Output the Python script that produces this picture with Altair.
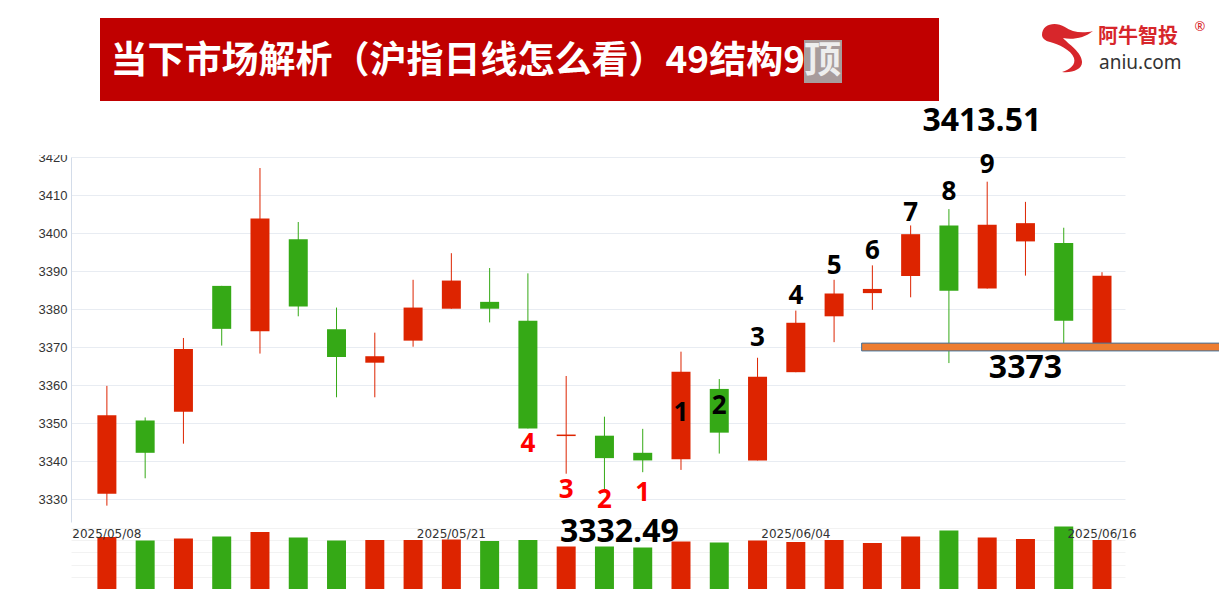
import altair as alt
import pandas as pd

title_main = "当下市场解析（沪指日线怎么看）49结构9"
title_last = "顶"
brand_cn = "阿牛智投"
brand_en = "aniu.com"

dates = ["2025/05/08", "2025/05/09", "2025/05/12", "2025/05/13", "2025/05/14", "2025/05/15",
         "2025/05/16", "2025/05/19", "2025/05/20", "2025/05/21", "2025/05/22", "2025/05/23",
         "2025/05/26", "2025/05/27", "2025/05/28", "2025/05/29", "2025/05/30", "2025/06/03",
         "2025/06/04", "2025/06/05", "2025/06/06", "2025/06/09", "2025/06/10", "2025/06/11",
         "2025/06/12", "2025/06/13", "2025/06/16"]
opens = [3331.4, 3350.7, 3353.0, 3386.1, 3374.2, 3398.4, 3374.7, 3365.9, 3371.7, 3380.1,
         3381.9, 3376.9, 3346.6, 3346.7, 3342.2, 3340.5, 3359.0, 3340.2, 3363.4, 3378.1,
         3384.2, 3388.7, 3402.0, 3385.4, 3397.8, 3397.4, 3371.0]
highs = [3359.8, 3351.5, 3372.4, 3386.1, 3417.1, 3402.9, 3380.4, 3373.8, 3387.7, 3394.7,
         3390.8, 3389.4, 3362.4, 3351.7, 3348.5, 3368.8, 3361.6, 3367.2, 3379.6, 3387.7,
         3391.5, 3402.0, 3406.3, 3413.51, 3408.2, 3401.4, 3389.7]
lows = [3328.3, 3335.5, 3344.6, 3370.4, 3368.3, 3378.1, 3356.8, 3356.8, 3370.1, 3380.1,
        3376.5, 3348.6, 3336.7, 3332.49, 3337.1, 3337.7, 3342.0, 3340.2, 3363.4, 3371.3,
        3379.8, 3383.1, 3365.8, 3385.4, 3388.8, 3370.5, 3370.5]
closes = [3352.1, 3342.2, 3369.5, 3374.8, 3403.8, 3380.7, 3367.4, 3367.6, 3380.4, 3387.5,
          3380.1, 3348.6, 3347.0, 3340.8, 3340.2, 3363.5, 3347.5, 3362.2, 3376.4, 3384.1,
          3385.3, 3399.7, 3384.8, 3402.2, 3402.6, 3376.9, 3388.8]
volumes = [104, 97, 101, 105, 114, 103, 97, 98, 98, 99, 96, 98, 85, 85, 83, 95, 93, 97,
           94, 98, 92, 105, 117, 103, 100, 125, 98]

price_ticks = [3330, 3340, 3350, 3360, 3370, 3380, 3390, 3400, 3410, 3420]
vol_grid = [24.5, 49, 73.5, 98, 122.5]
date_label_idx = [0, 9, 18, 26]

# annotations: text, candle position, price level, colour, font size
ann_text = ["4", "3", "2", "1", "1", "2", "3", "4", "5", "6", "7", "8", "9",
            "3413.51", "3332.49", "3373"]
ann_idx = [11, 12, 13, 14, 15, 16, 17, 18, 19, 20, 21, 22, 23, 22.86, 13.39, 24.0]
ann_val = [3344.6, 3332.4, 3329.8, 3331.5, 3352.7, 3354.6, 3372.3, 3383.4, 3391.4,
           3395.4, 3405.3, 3410.9, 3418.0, 3429.6, 3321.5, 3364.5]
ann_color = ["#FF0000"] * 4 + ["#000000"] * 12
ann_size = [26] * 13 + [32, 32, 32]

# support band (orange bar)
band_x = [19.72, 29.6]
band_y = [3369.0, 3371.05]

RED = "#DD2400"
GREEN = "#35A916"

df = pd.DataFrame({
    "idx": list(range(len(dates))), "date": dates, "open": opens, "high": highs,
    "low": lows, "close": closes, "vol": volumes,
})
df["dir"] = ["up" if c >= o else "down" for o, c in zip(opens, closes)]

xs = alt.Scale(domain=[-0.807, 26.47], nice=False, zero=False)
ps = alt.Scale(domain=[3324, 3420], range=[365, 0], nice=False, zero=False)
vs = alt.Scale(domain=[0, 125], range=[432, 369.5], nice=False, zero=False)
col = alt.Color("dir:N", scale=alt.Scale(domain=["up", "down"], range=[RED, GREEN]), legend=None)
X = alt.X("idx:Q", scale=xs, axis=None)

base = alt.Chart(df)

wicks = base.mark_rule(strokeWidth=1, clip=False).encode(
    x=X,
    y=alt.Y("low:Q", scale=ps, title=None,
            axis=alt.Axis(values=price_ticks, format="d", grid=True, gridColor="#E8ECF2",
                          domainColor="#D3DCE9", ticks=False, labelColor="#333333",
                          labelFontSize=13, labelFont="Liberation Sans", labelPadding=4)),
    y2="high:Q", color=col)

bodies = base.mark_bar(size=19, clip=False).encode(
    x=X, y=alt.Y("open:Q", scale=ps, axis=None), y2="close:Q", color=col)

vol_bars = base.mark_bar(size=19, clip=False).encode(
    x=X,
    y=alt.Y("vol:Q", scale=vs, title=None,
            axis=alt.Axis(values=vol_grid, grid=True, gridColor="#F2F2F2", labels=False,
                          ticks=False, domain=False, orient="right")),
    color=col)

date_df = df.iloc[date_label_idx]
date_labels = alt.Chart(date_df).mark_text(fontSize=12, color="#333333", font="DejaVu Sans",
                                           baseline="middle").encode(
    x=X, y=alt.value(377), text="date:N")

band_df = pd.DataFrame({"x1": [band_x[0]], "x2": [band_x[1]], "y1": [band_y[0]], "y2": [band_y[1]]})
band = alt.Chart(band_df).mark_rect(fill="#ED7D31", stroke="#41719C", strokeWidth=1, clip=False).encode(
    x=alt.X("x1:Q", scale=xs, axis=None), x2="x2:Q",
    y=alt.Y("y1:Q", scale=ps, axis=None), y2="y2:Q")

ann_df = pd.DataFrame({"t": ann_text, "idx": ann_idx, "val": ann_val, "c": ann_color, "fs": ann_size})
ann = alt.Chart(ann_df).mark_text(fontWeight="bold", font="Open Sans", baseline="middle", clip=False).encode(
    x=alt.X("idx:Q", scale=xs, axis=None),
    y=alt.Y("val:Q", scale=ps, axis=None),
    text="t:N",
    color=alt.Color("c:N", scale=None),
    size=alt.Size("fs:Q", scale=None))

one = pd.DataFrame({"a": [0]})
mask = alt.Chart(one).mark_rect(color="white").encode(
    x=alt.value(-40), x2=alt.value(-1), y=alt.value(-16), y2=alt.value(-2))
banner = alt.Chart(one).mark_rect(color="#C00000").encode(
    x=alt.value(29), x2=alt.value(868), y=alt.value(-139), y2=alt.value(-56))
hl = alt.Chart(one).mark_rect(color="#A89C9C").encode(
    x=alt.value(733), x2=alt.value(771), y=alt.value(-117), y2=alt.value(-74))
t1 = alt.Chart(pd.DataFrame({"t": [title_main]})).mark_text(
    font="Noto Sans CJK SC", fontWeight="bold", fontSize=37, color="white", align="right",
    baseline="middle").encode(text="t:N", x=alt.value(734), y=alt.value(-95))
t2 = alt.Chart(pd.DataFrame({"t": [title_last]})).mark_text(
    font="Noto Sans CJK SC", fontWeight="bold", fontSize=37, color="#EEEEEE", align="left",
    baseline="middle").encode(text="t:N", x=alt.value(733), y=alt.value(-95))

swoosh_path = ("M -1 -0.46 C -1 -0.88 -0.5 -1 -0.12 -0.77 C 0.15 -0.58 0.54 -0.5 0.96 -0.62 "
               "C 0.65 -0.35 0.15 -0.27 -0.19 -0.35 C 0 -0.12 0.54 0.19 0.54 0.58 "
               "C 0.54 0.88 0.15 1 -0.23 0.96 C 0.08 0.85 0.31 0.69 0.23 0.42 "
               "C 0.12 0.12 -0.38 -0.12 -0.69 -0.19 C -0.88 -0.23 -1 -0.35 -1 -0.46 Z")
swoosh = alt.Chart(one).mark_point(shape=swoosh_path, filled=True, size=2704, color="#D7262B",
                                   opacity=1, strokeWidth=0).encode(
    x=alt.value(997), y=alt.value(-110))
b_cn = alt.Chart(pd.DataFrame({"t": [brand_cn]})).mark_text(
    font="Noto Sans CJK SC", fontWeight="bold", fontSize=20, color="#D7262B", align="left",
    baseline="middle").encode(text="t:N", x=alt.value(1027), y=alt.value(-120))
b_r = alt.Chart(pd.DataFrame({"t": ["®"]})).mark_text(
    font="Noto Sans", fontSize=13, color="#D7262B", align="center",
    baseline="middle").encode(text="t:N", x=alt.value(1129), y=alt.value(-130))
b_en = alt.Chart(pd.DataFrame({"t": [brand_en]})).mark_text(
    font="Noto Sans", fontSize=19, color="#333333", align="left",
    baseline="middle").encode(text="t:N", x=alt.value(1028), y=alt.value(-94))

chart = alt.layer(
    wicks, bodies, vol_bars, date_labels, band, ann, mask,
    banner, hl, t1, t2, swoosh, b_cn, b_r, b_en
).resolve_scale(y="independent").properties(
    width=1054, height=432,
    padding={"left": 63, "top": 149, "right": 94, "bottom": 12},
    autosize=alt.AutoSizeParams(type="none"),
    background="white",
).configure_view(stroke=None)

chart.save("out.html", embed_options={"renderer": "svg", "actions": False})
